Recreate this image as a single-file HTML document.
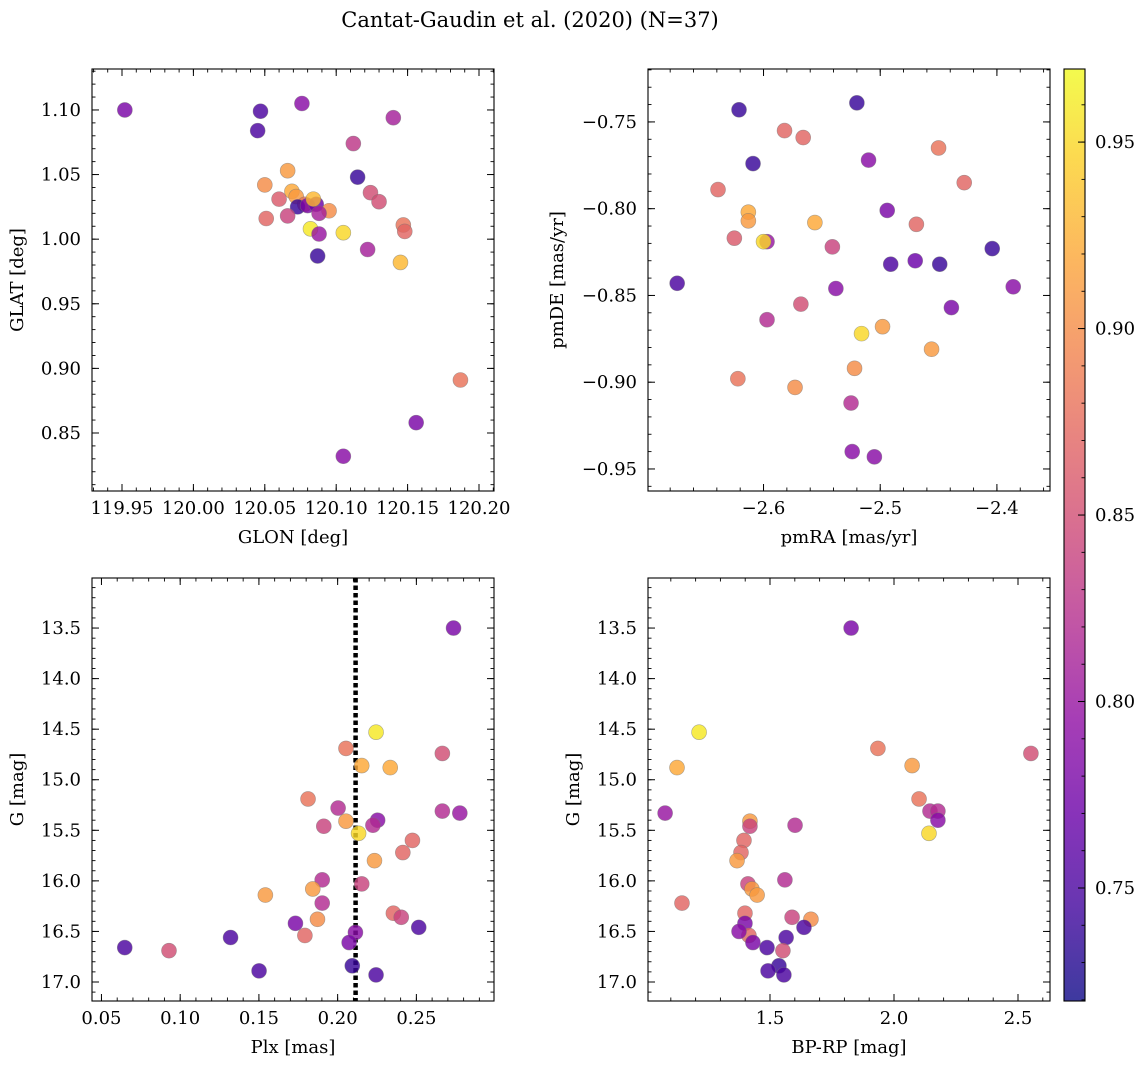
<!DOCTYPE html>
<html><head><meta charset="utf-8">
<style>
html,body{margin:0;padding:0;background:#fff;}
svg{display:block;font-family:"DejaVu Serif","Liberation Serif",serif;}
</style></head>
<body>
<svg id="fig" width="1148" height="1068" viewBox="0 0 1148 1068" xmlns="http://www.w3.org/2000/svg">
<text x="530" y="27" font-size="21" text-anchor="middle">Cantat-Gaudin et al. (2020) (N=37)</text>
</svg>
<script>
// ---- data ----
const glon = [119.952,120.047,120.045,120.076,120.140,120.112,120.115,120.066,120.050,120.124,120.130,120.060,120.069,120.072,120.078,120.073,120.080,120.086,120.084,120.095,120.088,120.051,120.066,120.082,120.088,120.105,120.147,120.148,120.122,120.087,120.145,120.187,120.156,120.105];
const glat = [1.100,1.099,1.084,1.105,1.094,1.074,1.048,1.053,1.042,1.036,1.029,1.031,1.037,1.033,1.027,1.025,1.026,1.027,1.031,1.022,1.020,1.016,1.018,1.008,1.004,1.005,1.011,1.006,0.992,0.987,0.982,0.891,0.858,0.832];
const probA = [0.78,0.75,0.75,0.79,0.81,0.83,0.74,0.91,0.90,0.85,0.85,0.86,0.92,0.91,0.88,0.74,0.78,0.77,0.93,0.90,0.81,0.87,0.84,0.96,0.80,0.95,0.88,0.87,0.81,0.74,0.93,0.88,0.78,0.79];

const pmra = [-2.674,-2.621,-2.520,-2.609,-2.582,-2.566,-2.639,-2.510,-2.450,-2.428,-2.613,-2.613,-2.556,-2.625,-2.597,-2.600,-2.541,-2.494,-2.469,-2.491,-2.470,-2.449,-2.404,-2.386,-2.439,-2.538,-2.568,-2.597,-2.516,-2.498,-2.456,-2.622,-2.522,-2.573,-2.525,-2.524,-2.505];
const pmde = [-0.843,-0.743,-0.739,-0.774,-0.755,-0.759,-0.789,-0.772,-0.765,-0.785,-0.802,-0.807,-0.808,-0.817,-0.819,-0.819,-0.822,-0.801,-0.809,-0.832,-0.830,-0.832,-0.823,-0.845,-0.857,-0.846,-0.855,-0.864,-0.872,-0.868,-0.881,-0.898,-0.892,-0.903,-0.912,-0.940,-0.943];
const probB = [0.75,0.74,0.74,0.74,0.87,0.87,0.87,0.79,0.88,0.87,0.92,0.91,0.92,0.86,0.80,0.95,0.84,0.78,0.87,0.75,0.77,0.74,0.74,0.79,0.78,0.79,0.85,0.82,0.95,0.91,0.91,0.88,0.90,0.90,0.82,0.79,0.79];

const plx = [0.2736,0.2244,0.2053,0.2665,0.2153,0.2334,0.1812,0.2003,0.2053,0.2665,0.2776,0.1912,0.2133,0.2254,0.2224,0.2475,0.2414,0.2234,0.1902,0.2153,0.1842,0.1541,0.1902,0.2354,0.2404,0.1872,0.1732,0.2515,0.1792,0.1320,0.2113,0.2073,0.0648,0.0929,0.2093,0.1501,0.2244];
const gmagC = [13.50,14.53,14.69,14.74,14.86,14.88,15.19,15.28,15.41,15.31,15.33,15.46,15.53,15.40,15.45,15.60,15.72,15.80,15.99,16.03,16.08,16.14,16.22,16.32,16.36,16.38,16.42,16.46,16.54,16.56,16.51,16.61,16.66,16.69,16.84,16.89,16.93];
const probC = [0.78,0.96,0.88,0.85,0.92,0.92,0.88,0.82,0.91,0.82,0.80,0.84,0.95,0.79,0.82,0.87,0.87,0.91,0.82,0.84,0.91,0.91,0.82,0.87,0.84,0.90,0.78,0.75,0.87,0.75,0.79,0.78,0.75,0.85,0.74,0.75,0.75];
const plxCut = [0.2114];

const bprp = [1.827,1.214,1.935,2.552,1.125,2.073,1.077,2.101,2.145,2.177,2.177,2.141,1.419,1.419,1.601,1.395,1.383,1.367,1.560,1.411,1.427,1.448,1.145,1.399,1.589,1.665,1.399,1.415,1.375,1.565,1.431,1.637,1.488,1.552,1.536,1.492,1.556];
const gmagD = [13.50,14.53,14.69,14.74,14.88,14.86,15.33,15.19,15.31,15.31,15.40,15.53,15.41,15.46,15.45,15.60,15.72,15.80,15.99,16.03,16.08,16.14,16.22,16.32,16.36,16.38,16.42,16.54,16.50,16.56,16.61,16.46,16.66,16.69,16.84,16.89,16.93];
const probD = [0.78,0.96,0.88,0.85,0.92,0.91,0.80,0.88,0.82,0.82,0.79,0.95,0.91,0.84,0.82,0.87,0.87,0.91,0.82,0.84,0.91,0.91,0.87,0.87,0.84,0.90,0.78,0.87,0.79,0.75,0.78,0.75,0.75,0.85,0.74,0.75,0.75];

const cbTicks = [0.75,0.80,0.85,0.90,0.95];
const cbMin = 0.7197, cbMax = 0.9696;

// ---- helpers ----
const svg = document.getElementById('fig');
const NS = 'http://www.w3.org/2000/svg';
const FS = 18;
function mk(tag, attrs, parent){const e=document.createElementNS(NS,tag);for(const k in attrs)e.setAttribute(k,attrs[k]);(parent||svg).appendChild(e);return e;}
const plasmaStops=[[13,8,135],[65,4,157],[106,0,168],[143,13,164],[177,42,144],[204,71,120],[225,100,98],[242,132,75],[252,166,54],[252,206,37],[240,249,33]];
function plasma(t){t=Math.max(0,Math.min(1,t));const s=t*10;const i=Math.min(9,Math.floor(s));const f=s-i;const a=plasmaStops[i],b=plasmaStops[i+1];return 'rgb('+[0,1,2].map(k=>Math.round(a[k]+(b[k]-a[k])*f)).join(',')+')';}
function pcol(p){return plasma((p-cbMin)/(cbMax-cbMin));}
function fmt(v,d){return v.toFixed(d).replace('-','\u2212');}

function makeAxes(cfg){
  const {x0,x1,y0,y1,xmin,xmax,ymin,ymax,name}=cfg;
  const sx=v=>x0+(v-xmin)/(xmax-xmin)*(x1-x0);
  const sy=v=>y1-(v-ymin)/(ymax-ymin)*(y1-y0);
  const g=mk('g',{});
  
  
  const eps=1e-9;
  function ticks(a0,b0,step){const lo=Math.min(a0,b0),hi=Math.max(a0,b0);const a=[];for(let k=Math.ceil(lo/step-eps);k*step<=hi+eps;k++)a.push(k*step);return a;}
  ticks(xmin,xmax,cfg.xminor).forEach(v=>{const X=sx(v);mk('line',{x1:X,x2:X,y1:y1,y2:y1-3.5,stroke:'#000','stroke-width':0.9},g);mk('line',{x1:X,x2:X,y1:y0,y2:y0+3.5,stroke:'#000','stroke-width':0.9},g);});
  ticks(ymin,ymax,cfg.yminor).forEach(v=>{const Y=sy(v);mk('line',{x1:x0,x2:x0+3.5,y1:Y,y2:Y,stroke:'#000','stroke-width':0.9},g);mk('line',{x1:x1,x2:x1-3.5,y1:Y,y2:Y,stroke:'#000','stroke-width':0.9},g);});
  ticks(xmin,xmax,cfg.xmajor).forEach(v=>{const X=sx(v);mk('line',{x1:X,x2:X,y1:y1,y2:y1-7,stroke:'#000','stroke-width':1},g);mk('line',{x1:X,x2:X,y1:y0,y2:y0+7,stroke:'#000','stroke-width':1},g);
    const t=mk('text',{x:X,y:y1+23,'font-size':FS,'text-anchor':'middle'},g);t.textContent=fmt(v,cfg.xdec);
    
    });
  ticks(ymin,ymax,cfg.ymajor).forEach(v=>{const Y=sy(v);mk('line',{x1:x0,x2:x0+7,y1:Y,y2:Y,stroke:'#000','stroke-width':1},g);mk('line',{x1:x1,x2:x1-7,y1:Y,y2:Y,stroke:'#000','stroke-width':1},g);
    const t=mk('text',{x:x0-11,y:Y+6,'font-size':FS,'text-anchor':'end'},g);t.textContent=fmt(v,cfg.ydec);
    
    });
  const xl=mk('text',{x:(x0+x1)/2,y:y1+52,'font-size':FS,'text-anchor':'middle'},g);xl.textContent=cfg.xlabel;
  
  
  const ycx=cfg.ylx,ycy=(y0+y1)/2;
  const yl=mk('text',{x:ycx,y:ycy,'font-size':FS,'text-anchor':'middle',transform:'rotate(-90 '+ycx+' '+ycy+')'},g);yl.textContent=cfg.ylabel;
  
  
  const frame=mk('rect',{x:x0,y:y0,width:x1-x0,height:y1-y0,fill:'none',stroke:'#000','stroke-width':1.1},g);
  
  
  return {sx,sy,g};
}
function scatter(ax,xs,ys,ps,label){
  xs.forEach((v,i)=>{
    const c=mk('circle',{cx:ax.sx(v),cy:ax.sy(ys[i]),r:7.5,fill:pcol(ps[i]),'fill-opacity':0.82,stroke:'#777','stroke-opacity':0.6,'stroke-width':0.6},ax.g);
    
    
  });
}

const axA=makeAxes({name:'glon-glat-panel',x0:92,x1:494,y0:69,y1:491,xmin:119.929,xmax:120.2105,ymin:0.8051,ymax:1.1317,xmajor:0.05,xminor:0.01,ymajor:0.05,yminor:0.01,xdec:2,ydec:2,xlabel:'GLON [deg]',ylabel:'GLAT [deg]',ylx:23});
scatter(axA,glon,glat,probA,'star-point');
const axB=makeAxes({name:'proper-motion-panel',x0:648,x1:1050,y0:69,y1:491,xmin:-2.699,xmax:-2.3545,ymin:-0.9627,ymax:-0.7195,xmajor:0.1,xminor:0.02,ymajor:0.05,yminor:0.01,xdec:1,ydec:2,xlabel:'pmRA [mas/yr]',ylabel:'pmDE [mas/yr]',ylx:563});
scatter(axB,pmra,pmde,probB,'star-point');
const axC=makeAxes({name:'parallax-mag-panel',x0:92,x1:494,y0:578,y1:1001,xmin:0.044,xmax:0.2993,ymin:17.188,ymax:13.005,xmajor:0.05,xminor:0.01,ymajor:0.5,yminor:0.1,xdec:2,ydec:1,xlabel:'Plx [mas]',ylabel:'G [mag]',ylx:23});
plxCut.forEach(v=>{const l=mk('line',{x1:axC.sx(v),x2:axC.sx(v),y1:578,y2:1001,stroke:'#000','stroke-width':4.5,'stroke-dasharray':'4.5 3'},axC.g);
  
  });
scatter(axC,plx,gmagC,probC,'star-point');
const axD=makeAxes({name:'cmd-panel',x0:648,x1:1050,y0:578,y1:1001,xmin:1.008,xmax:2.629,ymin:17.188,ymax:13.005,xmajor:0.5,xminor:0.1,ymajor:0.5,yminor:0.1,xdec:1,ydec:1,xlabel:'BP-RP [mag]',ylabel:'G [mag]',ylx:579});
scatter(axD,bprp,gmagD,probD,'star-point');

// colorbar
const cb=mk('g',{});


const cbx0=1064,cbx1=1085,cby0=69,cby1=1001;
const cy=v=>cby1-(v-cbMin)/(cbMax-cbMin)*(cby1-cby0);
const defs=mk('defs',{},cb);
const grad=mk('linearGradient',{id:'cbg',x1:0,y1:1,x2:0,y2:0},defs);
for(let i=0;i<=20;i++){mk('stop',{offset:(i/20),'stop-color':plasma(i/20),'stop-opacity':0.8},grad);}
mk('rect',{x:cbx0,y:cby0,width:cbx1-cbx0,height:cby1-cby0,fill:'url(#cbg)',stroke:'#000','stroke-width':1.1},cb);
for(let k=72;k<=96;k++){const Y=cy(k/100);mk('line',{x1:cbx1,x2:cbx1-3.5,y1:Y,y2:Y,stroke:'#000','stroke-width':0.9},cb);}
cbTicks.forEach(v=>{const Y=cy(v);mk('line',{x1:cbx1,x2:cbx1-7,y1:Y,y2:Y,stroke:'#000','stroke-width':1},cb);
  const t=mk('text',{x:cbx1+10,y:Y+6,'font-size':FS},cb);t.textContent=v.toFixed(2);
  
  });
</script>
</body></html>
